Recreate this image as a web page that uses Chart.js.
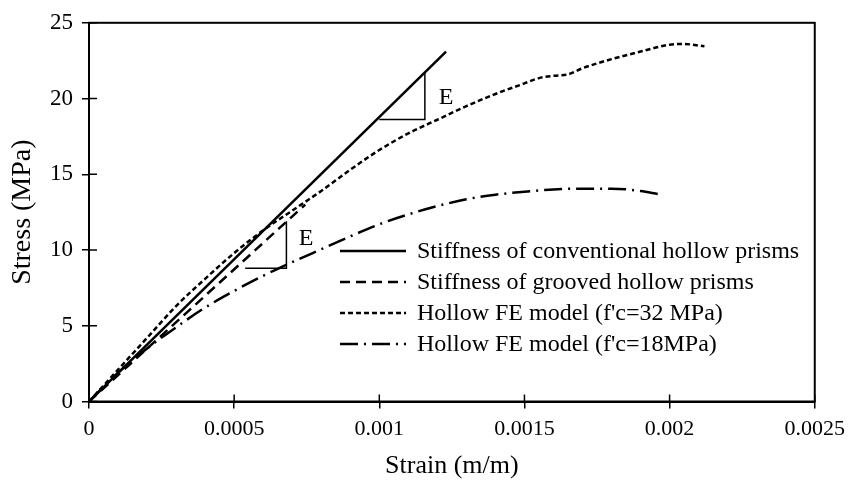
<!DOCTYPE html>
<html>
<head>
<meta charset="utf-8">
<script src="https://cdn.jsdelivr.net/npm/chart.js@4.4.1/dist/chart.umd.min.js"></script>
<style>
  html, body { margin: 0; padding: 0; background: #ffffff; }
  #wrap { width: 853px; height: 482px; position: relative; }
</style>
</head>
<body>
<div id="wrap"><canvas id="c" width="853" height="482"></canvas></div>
<script>
// ---------- data ----------
const seriesNames = [
  'Stiffness of conventional hollow prisms',
  'Stiffness of grooved hollow prisms',
  "Hollow FE model (f'c=32 MPa)",
  "Hollow FE model (f'c=18MPa)"
];
const xTickValues = [0, 0.0005, 0.001, 0.0015, 0.002, 0.0025];
const xTickLabels = ['0', '0.0005', '0.001', '0.0015', '0.002', '0.0025'];
const yTickValues = [0, 5, 10, 15, 20, 25];
const yTickLabels = ['0', '5', '10', '15', '20', '25'];

const conventionalStrain = [0, 0.00123];
const conventionalStress = [0, 23.1];

const groovedStrain = [0, 0.000745];
const groovedStress = [0, 13.0];

const fe32Strain = [0, 0.0001, 0.0002, 0.0003, 0.0004, 0.0005, 0.0006, 0.0007, 0.0008, 0.0009, 0.001, 0.0011, 0.0012, 0.0013, 0.0014, 0.0015, 0.00155, 0.0016, 0.00165, 0.0017, 0.0018, 0.0019, 0.002, 0.00205, 0.0021, 0.00212];
const fe32Stress = [0, 2.1, 4.2, 6.3, 8.1, 9.8, 11.3, 12.6, 13.9, 15.3, 16.6, 17.7, 18.6, 19.5, 20.3, 21.0, 21.35, 21.5, 21.6, 22.0, 22.6, 23.1, 23.55, 23.6, 23.5, 23.45];

const fe18Strain = [0, 0.0001, 0.0002, 0.0003, 0.0004, 0.0005, 0.0006, 0.0007, 0.0008, 0.0009, 0.001, 0.0011, 0.0012, 0.0013, 0.0014, 0.0015, 0.0016, 0.0017, 0.0018, 0.0019, 0.00196];
const fe18Stress = [0, 1.9, 3.5, 4.9, 6.2, 7.3, 8.3, 9.2, 10.05, 10.9, 11.7, 12.35, 12.9, 13.35, 13.65, 13.85, 14.0, 14.05, 14.05, 13.9, 13.7];

const tri1Strain = [0.001, 0.001157, 0.001157];
const tri1Stress = [18.62, 18.62, 21.7];
const tri2Strain = [0.000538, 0.00068, 0.00068];
const tri2Stress = [8.79, 8.79, 11.9];

const eLabelStrain = [0.00123, 0.000748];
const eLabelStress = [20.05, 10.72];
const eLabelText = ['E', 'E'];

const xTitle = 'Strain (m/m)';
const yTitle = 'Stress (MPa)';

// ---------- helpers ----------
const pts = (xs, ys) => xs.map((x, i) => ({ x: x, y: ys[i] }));
const FONT = "'Liberation Serif', 'Times New Roman', serif";

const dashes = [[], [10, 6], [5, 3], [18, 6, 2, 6]];

const datasets = [
  { label: seriesNames[0], data: pts(conventionalStrain, conventionalStress), borderDash: dashes[0], borderWidth: 2.5 },
  { label: seriesNames[1], data: pts(groovedStrain, groovedStress), borderDash: dashes[1], borderWidth: 2.5 },
  { label: seriesNames[2], data: pts(fe32Strain, fe32Stress), borderDash: dashes[2], borderWidth: 2.5, cubicInterpolationMode: 'monotone' },
  { label: seriesNames[3], data: pts(fe18Strain, fe18Stress), borderDash: dashes[3], borderWidth: 2.5, cubicInterpolationMode: 'monotone' },
  { label: 'tri1', data: pts(tri1Strain, tri1Stress), borderDash: [], borderWidth: 1.5 },
  { label: 'tri2', data: pts(tri2Strain, tri2Stress), borderDash: [], borderWidth: 1.5 }
].map(d => Object.assign({
  borderColor: '#000000',
  backgroundColor: '#000000',
  pointRadius: 0,
  fill: false,
  tension: 0
}, d));

// ---------- plugins ----------
const framePlugin = {
  id: 'frame',
  afterDraw(chart) {
    const ctx = chart.ctx;
    const a = chart.chartArea;
    const xs = chart.scales.x, ys = chart.scales.y;
    ctx.save();
    ctx.strokeStyle = '#000';
    ctx.lineWidth = 2;
    ctx.strokeRect(a.left, a.top, a.right - a.left, a.bottom - a.top);
    // inner halves of cross tick marks
    ctx.lineWidth = 1.5;
    ctx.beginPath();
    xs.ticks.forEach(t => {
      const px = xs.getPixelForValue(t.value);
      ctx.moveTo(px, a.bottom);
      ctx.lineTo(px, a.bottom - 7);
    });
    ys.ticks.forEach(t => {
      const py = ys.getPixelForValue(t.value);
      ctx.moveTo(a.left, py);
      ctx.lineTo(a.left + 8, py);
    });
    ctx.stroke();
    // E labels
    ctx.fillStyle = '#000';
    ctx.font = '24px ' + FONT;
    ctx.textAlign = 'center';
    ctx.textBaseline = 'middle';
    eLabelText.forEach((s, i) => {
      ctx.fillText(s, xs.getPixelForValue(eLabelStrain[i]), ys.getPixelForValue(eLabelStress[i]));
    });
    // legend
    const lx0 = 340, lx1 = 406, tx = 417, y0 = 251, dy = 31;
    ctx.font = '24px ' + FONT;
    ctx.textAlign = 'left';
    for (let i = 0; i < 4; i++) {
      const ds = chart.data.datasets[i];
      const y = y0 + i * dy;
      ctx.save();
      ctx.setLineDash(ds.borderDash);
      ctx.lineWidth = ds.borderWidth;
      ctx.beginPath();
      ctx.moveTo(lx0, y);
      ctx.lineTo(lx1, y);
      ctx.stroke();
      ctx.restore();
      ctx.fillText(ds.label, tx, y + 1);
    }
    ctx.restore();
  }
};

// ---------- chart ----------
new Chart(document.getElementById('c'), {
  type: 'line',
  data: { datasets: datasets },
  options: {
    responsive: false,
    animation: false,
    events: [],
    layout: { padding: { top: 14, right: 35.5, left: 0, bottom: 0 } },
    plugins: { legend: { display: false }, tooltip: { enabled: false } },
    scales: {
      x: {
        type: 'linear',
        min: 0, max: 0.0025,
        afterBuildTicks: s => { s.ticks = xTickValues.map(v => ({ value: v })); },
        afterFit: s => { s.height = 80.5; },
        ticks: {
          color: '#000',
          font: { family: FONT, size: 22 },
          padding: 8,
          maxRotation: 0,
          autoSkip: false,
          callback: (v, i) => xTickLabels[i]
        },
        grid: { drawOnChartArea: false, drawTicks: true, tickLength: 7, color: '#000', lineWidth: 1.5 },
        border: { display: true, color: '#000', width: 2 },
        title: { display: true, text: xTitle, color: '#000', font: { family: FONT, size: 26 }, padding: { top: 0, bottom: 0 } }
      },
      y: {
        type: 'linear',
        min: 0, max: 25,
        afterBuildTicks: s => { s.ticks = yTickValues.map(v => ({ value: v })); },
        afterFit: s => { s.width = 89; },
        ticks: {
          color: '#000',
          font: { family: FONT, size: 23 },
          padding: 9,
          autoSkip: false,
          callback: (v, i) => yTickLabels[i]
        },
        grid: { drawOnChartArea: false, drawTicks: true, tickLength: 7, color: '#000', lineWidth: 1.5 },
        border: { display: true, color: '#000', width: 2 },
        title: { display: true, text: yTitle, color: '#000', font: { family: FONT, size: 28 }, padding: { top: 6, bottom: 0 } }
      }
    }
  },
  plugins: [framePlugin]
});
</script>
</body>
</html>
